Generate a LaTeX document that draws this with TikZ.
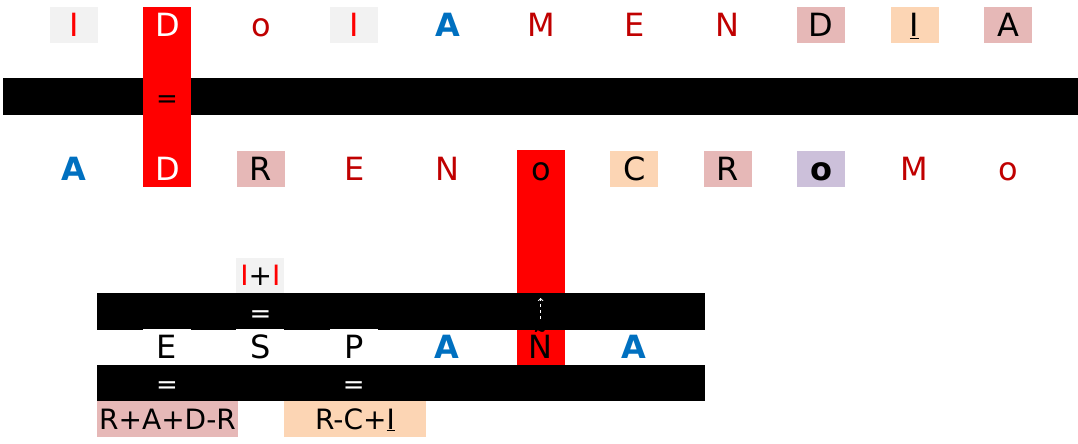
\documentclass[tikz,border=0pt]{standalone}
\usepackage{fontspec}
\setmainfont{DejaVu Sans}
\usepackage{xcolor}
\usepackage{tikz}
\usetikzlibrary{positioning}

\definecolor{hotred}{HTML}{FF0000}
\definecolor{darkred}{HTML}{C00000}
\definecolor{accentblue}{HTML}{0070C0}
\definecolor{rosefill}{HTML}{E6B8B7}
\definecolor{peachfill}{HTML}{FCD5B4}
\definecolor{lilacfill}{HTML}{CCC0DA}
\definecolor{greyfill}{HTML}{F2F2F2}

\newcommand{\cellfont}{\fontsize{32}{36}\selectfont}
\newcommand{\notefont}{\fontsize{28}{32}\selectfont}
\newcommand{\eqfont}{\fontsize{26}{30}\selectfont}

\begin{document}
\begin{tikzpicture}[x=1pt, y=-1pt, node distance=45.4pt, every node/.style={outer sep=0pt},
    cell/.style={minimum width=48pt, minimum height=36pt, inner sep=0pt, font=\cellfont, text height=23.3pt, text depth=0pt},
    note/.style={minimum height=36pt, inner sep=0pt, font=\notefont, text height=20.4pt, text depth=0pt},
    bar/.style={fill=black, inner sep=0pt, minimum height=37pt},
    eqmark/.style={font=\eqfont, inner sep=0pt, yshift=-5pt}]
  \useasboundingbox (0,0) rectangle (1078,444);
  % bars and red columns
  \node[bar, minimum width=1075pt] (topbar) at (540.5,96.5) {};
  \node[cell, fill=hotred, minimum height=180pt] (dcol) at (167,97) {};
  \node[cell, fill=hotred, minimum height=215pt] (ocol) at (541,257.5) {};
  \node[bar, minimum width=608pt] (upperbar) at (401,311.5) {};
  \node[bar, minimum width=608pt, minimum height=36pt] (lowerbar) at (401,383) {};
  % first word
  \node[cell, fill=greyfill, text=hotred] (t1) at (74,25) {I};
  \node[cell, right=of t1, text=white] (t2) {D};
  \node[cell, right=of t2, text=darkred] (t3) {o};
  \node[cell, right=of t3, fill=greyfill, text=hotred] (t4) {I};
  \node[cell, right=of t4, text=accentblue, font=\cellfont\bfseries] (t5) {A};
  \node[cell, right=of t5, text=darkred] (t6) {M};
  \node[cell, right=of t6, text=darkred] (t7) {E};
  \node[cell, right=of t7, text=darkred] (t8) {N};
  \node[cell, right=of t8, fill=rosefill] (t9) {D};
  \node[cell, right=of t9, fill=peachfill] (t10) {\underline{I}};
  \node[cell, right=of t10, fill=rosefill] (t11) {A};
  % second word
  \node[cell, text=accentblue, font=\cellfont\bfseries] (b1) at (74,168.5) {A};
  \node[cell, right=of b1, text=white] (b2) {D};
  \node[cell, right=of b2, fill=rosefill] (b3) {R};
  \node[cell, right=of b3, text=darkred] (b4) {E};
  \node[cell, right=of b4, text=darkred] (b5) {N};
  \node[cell, right=of b5] (b6) {o};
  \node[cell, right=of b6, fill=peachfill] (b7) {C};
  \node[cell, right=of b7, fill=rosefill] (b8) {R};
  \node[cell, right=of b8, fill=lilacfill, font=\cellfont\bfseries] (b9) {o};
  \node[cell, right=of b9, text=darkred] (b10) {M};
  \node[cell, right=of b10, text=darkred] (b11) {o};
  % third word
  \node[cell, fill=white] (m1) at (167,347) {E};
  \node[cell, right=of m1, fill=white] (m2) {S};
  \node[cell, right=of m2, fill=white] (m3) {P};
  \node[cell, right=of m3, text=accentblue, font=\cellfont\bfseries] (m4) {A};
  \node[cell, right=of m4] (m5) {Ñ};
  \node[cell, right=of m5, text=accentblue, font=\cellfont\bfseries] (m6) {A};
  % sums
  \node[note, fill=greyfill, minimum width=48pt, minimum height=35pt, anchor=south] (pair) at (m2 |- upperbar.north) {\textcolor{hotred}{I}+\textcolor{hotred}{I}};
  \node[note, fill=rosefill, minimum width=141pt, anchor=north west] (sumleft) at (lowerbar.south west) {R+A+D-R};
  \node[note, fill=peachfill, minimum width=142pt, right=46pt of sumleft] (sumright) {R-C+\underline{I}};
  % equal marks
  \node[eqmark] (eqtop) at (dcol |- topbar) {=};
  \node[eqmark, text=white] (eqpair) at (m2 |- upperbar) {=};
  \node[eqmark, text=white] (eqleft) at (m1 |- lowerbar) {=};
  \node[eqmark, text=white] (eqright) at (m3 |- lowerbar) {=};
  \coordinate (risefoot) at ([yshift=10pt]m5.north);
  \coordinate (risetip) at ([yshift=31pt]m5.north);
  \draw[->, white, dashed, line width=1pt] (risefoot) -- (risetip);
\end{tikzpicture}
\end{document}
